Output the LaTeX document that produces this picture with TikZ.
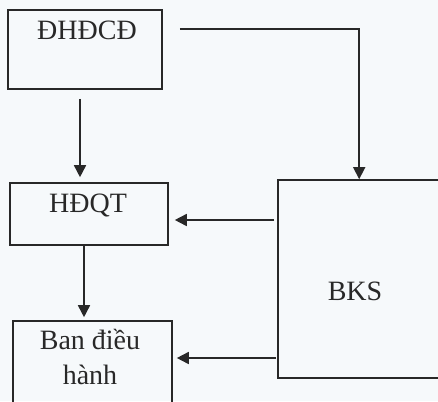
\documentclass[tikz,border=0pt]{standalone}
\usepackage{fontspec}
\setmainfont{Liberation Serif}
\usetikzlibrary{arrows.meta}
\definecolor{bgc}{RGB}{246,249,251}
\definecolor{ink}{RGB}{40,40,40}
\begin{document}
\begin{tikzpicture}[x=1pt,y=-1pt,
  box/.style={draw=ink,line width=1.6pt,inner sep=0pt,rectangle},
  lbl/.style={inner sep=0pt,text=ink,font=\fontsize{28}{35}\selectfont,align=center},
  arr/.style={draw=ink,line width=1.6pt,-{Triangle[width=12pt,length=12pt]}}]
\useasboundingbox (0,0) rectangle (438,401);
\fill[bgc] (0,0) rectangle (438,401);
\clip (0,0) rectangle (438,401);
% boxes
\node[box,minimum width=154pt,minimum height=79pt] (dh) at (85,49.5) {};
\node[box,minimum width=158pt,minimum height=62pt] (hd) at (89,214) {};
\node[box,minimum width=159pt,minimum height=90pt] (ban) at (92.5,366) {};
\node[box,minimum width=167pt,minimum height=198pt] (bks) at (361.5,279) {};
% labels
\node[lbl] (dht) at (87,30) {ĐHĐCĐ};
\node[lbl] (hdt) at (88,205) {HĐQT};
\node[lbl] (bant) at (90,357) {Ban điều\\hành};
\node[lbl] (bkst) at (355,291) {BKS};
% connectors
\draw[arr] ([xshift=17pt,yshift=-20pt]dh.north east) -| ([xshift=82pt]bks.north west);
\draw[arr] ([xshift=-5pt,yshift=-9pt]dh.south) -- ([xshift=-9pt,yshift=5pt]hd.north);
\draw[arr] ([xshift=-3pt,yshift=59pt]bks.west) -- ([xshift=6pt,yshift=-6pt]hd.east);
\draw[arr] ([xshift=-5pt]hd.south) -- ([xshift=-8.5pt,yshift=3pt]ban.north);
\draw[arr] ([xshift=-1pt,yshift=-79pt]bks.west) -- ([xshift=4pt,yshift=8pt]ban.east);
\end{tikzpicture}
\end{document}
